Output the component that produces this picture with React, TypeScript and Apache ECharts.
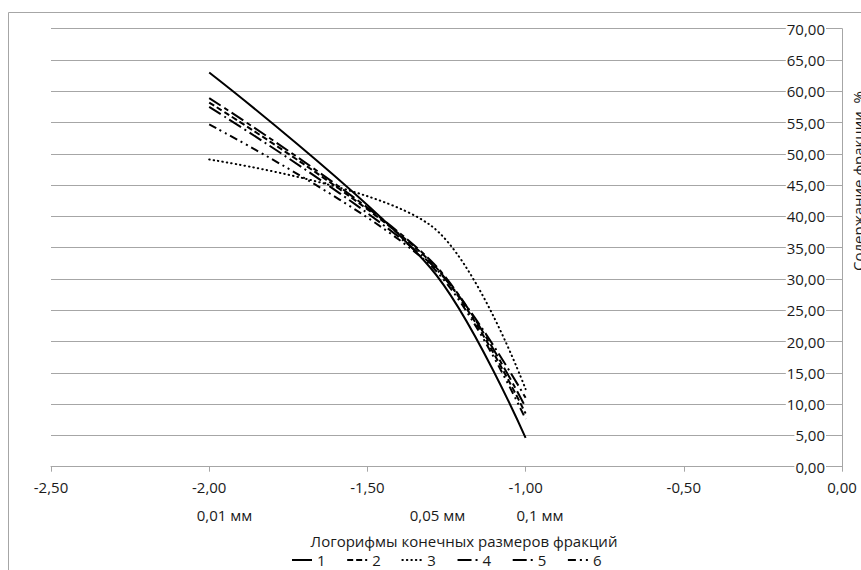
import React, { useEffect, useRef } from 'react';
import * as echarts from 'echarts';

// Log10 of final fraction sizes (0,01 mm; 0,05 mm; 0,1 mm)
const xLog = [-2, -1.301, -1];
const seriesNames = ['1', '2', '3', '4', '5', '6'];
const series1 = [63.0, 31.8, 4.6];
const series2 = [58.2, 32.8, 8.5];
const series3 = [49.1, 38.6, 12.4];
const series4 = [58.9, 33.0, 9.5];
const series5 = [57.5, 32.5, 11.0];
const series6 = [54.7, 32.2, 7.6];
const sizeLabels = ['0,01 мм', '0,05 мм', '0,1 мм'];
const sizeLabelX = [224.5, 437.5, 540];
const xAxisTitle = 'Логорифмы конечных размеров фракций';
const yAxisTitle = 'Содержание фракции, %';

const FONT = '"Open Sans", sans-serif';
const TXT = '#1a1a1a';
const GRID = '#a6a6a6';

const dashStyles: Record<string, { type: any; cap?: string }> = {
  '1': { type: 'solid' },
  '2': { type: [6, 3] },
  '3': { type: [0.5, 4], cap: 'round' },
  '4': { type: [14, 4, 5, 4] },
  '5': { type: [14, 4, 2, 4] },
  '6': { type: [8, 4, 2, 4, 2, 4] },
};

const fmt = (v: number) => v.toFixed(2).replace('.', ',');

export default function App() {
  const ref = useRef<HTMLDivElement>(null);
  useEffect(() => {
    document.body.style.margin = '0';
    document.body.style.overflow = 'hidden';
    const chart = echarts.init(ref.current!, null, { renderer: 'svg' });
    const all = [series1, series2, series3, series4, series5, series6];
    chart.setOption({
      animation: false,
      backgroundColor: '#ffffff',
      grid: { left: 51, right: 19, top: 28.7, bottom: 103.3, containLabel: false, outerBoundsMode: 'none' },
      xAxis: {
        type: 'value',
        min: -2.5,
        max: 0,
        interval: 0.5,
        axisLine: { show: true, onZero: false, lineStyle: { color: GRID, width: 1 } },
        axisTick: { show: true, length: 5, lineStyle: { color: GRID } },
        splitLine: { show: false },
        axisLabel: { formatter: fmt, fontFamily: FONT, fontSize: 15, color: TXT, margin: 13 },
      },
      yAxis: {
        type: 'value',
        position: 'right',
        min: 0,
        max: 70,
        interval: 5,
        axisLine: { show: true, lineStyle: { color: GRID, width: 1 } },
        axisTick: { show: false },
        splitLine: { show: true, lineStyle: { color: GRID, width: 1 } },
        axisLabel: {
          inside: true,
          formatter: fmt,
          fontFamily: FONT,
          fontSize: 15,
          color: TXT,
          margin: 16,
          backgroundColor: '#ffffff',
          padding: [0, 1, 0, 1],
        },
      },
      legend: {
        left: 291,
        top: 552,
        padding: 0,
        itemWidth: 20,
        itemHeight: 16,
        itemGap: 20.6,
        itemStyle: { color: 'rgba(0,0,0,0)', borderWidth: 0, opacity: 0 },
        textStyle: { fontFamily: FONT, fontSize: 15, color: TXT, lineHeight: 16 },
        data: seriesNames,
      },
      series: seriesNames.map((name, i) => ({
        name,
        type: 'line',
        smooth: 0.32,
        symbol: 'none',
        showSymbol: false,
        data: xLog.map((x, j) => [x, all[i][j]]),
        lineStyle: {
          color: '#000000',
          width: 2,
          type: dashStyles[name].type,
          cap: dashStyles[name].cap || 'butt',
        },
        itemStyle: { color: '#000000' },
      })),
      graphic: [
        {
          type: 'rect',
          silent: true,
          shape: { x: 8.5, y: 12.5, width: 900, height: 600 },
          style: { fill: 'none', stroke: '#a6a6a6', lineWidth: 1 },
          z: -1,
        },
        ...sizeLabels.map((label, i) => ({
          type: 'text',
          silent: true,
          x: sizeLabelX[i],
          y: 515,
          style: {
            text: label,
            fontFamily: FONT,
            fontSize: 15,
            fill: TXT,
            align: 'center',
            verticalAlign: 'middle',
          },
        })),
        {
          type: 'text',
          silent: true,
          x: 464,
          y: 541,
          style: {
            text: xAxisTitle,
            fontFamily: FONT,
            fontSize: 15,
            fill: TXT,
            align: 'center',
            verticalAlign: 'middle',
          },
        },
        {
          type: 'text',
          silent: true,
          x: 858,
          y: 181,
          rotation: Math.PI / 2,
          style: {
            text: yAxisTitle,
            fontFamily: FONT,
            fontSize: 15,
            fill: TXT,
            align: 'center',
            verticalAlign: 'middle',
          },
        },
      ],
    });
    return () => chart.dispose();
  }, []);
  return <div ref={ref} style={{ width: 861, height: 570 }} />;
}
